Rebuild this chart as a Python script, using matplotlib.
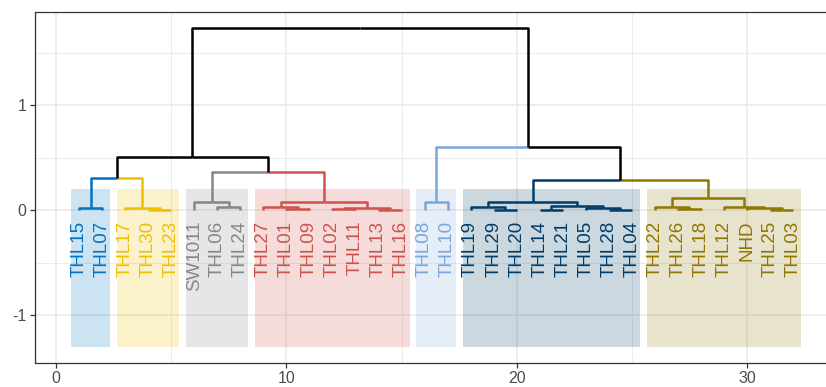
#!/usr/bin/python3
# coding: utf-8

import matplotlib
matplotlib.use("Agg")
import matplotlib.pyplot as plt
from matplotlib.patches import Rectangle
from matplotlib.ticker import MultipleLocator

# leaf order as drawn, left to right
leafLabels = ["THL15", "THL07", "THL17", "THL30", "THL23", "SW1011", "THL06", "THL24",
              "THL27", "THL01", "THL09", "THL02", "THL11", "THL13", "THL16",
              "THL08", "THL10", "THL19", "THL29", "THL20", "THL14", "THL21", "THL05",
              "THL28", "THL04", "THL22", "THL26", "THL18", "THL12", "NHD", "THL25", "THL03"]
# cluster of every leaf (index into clusterColors)
leafCluster = [0, 0, 1, 1, 1, 2, 2, 2, 3, 3, 3, 3, 3, 3, 3, 4, 4,
               5, 5, 5, 5, 5, 5, 5, 5, 6, 6, 6, 6, 6, 6, 6]
clusterColors = ["#0073C2", "#EFC000", "#868686", "#CD534C", "#7AA6DC", "#003C67", "#8F7700"]

# merges, linkage style: ids < 32 are leaves, id 32+k is merge k
mergeLeft = [0, 3, 2, 6, 5, 9, 8, 11, 13, 39, 38, 15, 18, 17, 20, 23, 22, 46, 45,
             26, 25, 30, 29, 28, 52, 32, 36, 57, 50, 43, 59]
mergeRight = [1, 4, 33, 7, 35, 10, 37, 12, 14, 40, 41, 16, 19, 44, 21, 24, 47, 48, 49,
              27, 51, 31, 53, 54, 55, 34, 42, 58, 56, 60, 61]
mergeHeight = [0.015, 0.005, 0.022, 0.03, 0.073, 0.008, 0.025, 0.006, 0.005, 0.015, 0.079,
               0.08, 0.005, 0.03, 0.005, 0.003, 0.02, 0.035, 0.079,
               0.01, 0.03, 0.003, 0.015, 0.025, 0.117, 0.305, 0.365, 0.505, 0.29, 0.60, 1.733]

xTicks = [0, 10, 20, 30]
yTicks = [-1, 0, 1]


def layout():
    # x of a node is the mean of its two children, leaves sit at 1..n
    n = len(leafLabels)
    xs = {i: i + 1 for i in range(n)}
    hs = {i: 0.0 for i in range(n)}
    cols = {i: clusterColors[leafCluster[i]] for i in range(n)}
    for k in range(len(mergeLeft)):
        a, b = mergeLeft[k], mergeRight[k]
        node = n + k
        xs[node] = (xs[a] + xs[b]) / 2.0
        hs[node] = mergeHeight[k]
        cols[node] = cols[a] if cols[a] == cols[b] else "black"
    return xs, hs, cols


def main():
    plt.rcParams['font.family'] = ['Liberation Sans', 'DejaVu Sans']
    plt.rcParams['axes.unicode_minus'] = False
    fig = plt.figure(figsize=(8.26, 3.87), dpi=100)
    ax = fig.add_axes([0.0424, 0.0628, 0.9576, 0.9062])

    xs, hs, cols = layout()
    n = len(leafLabels)

    # cluster boxes
    for c in range(len(clusterColors)):
        members = [i + 1 for i in range(n) if leafCluster[i] == c]
        x0 = min(members) - 0.35
        x1 = max(members) + 0.35
        ax.add_patch(Rectangle((x0, -1.3), x1 - x0, 1.5, facecolor=clusterColors[c],
                               alpha=0.2, edgecolor="none", zorder=1))

    # branches: each child gets an elbow up to the parent, coloured like the child
    for k in range(len(mergeLeft)):
        node = n + k
        for child in (mergeLeft[k], mergeRight[k]):
            ax.plot([xs[child], xs[child], xs[node]], [hs[child], hs[node], hs[node]],
                    color=cols[child], lw=1.8, solid_capstyle="butt", zorder=3)

    # leaf labels
    for i, lab in enumerate(leafLabels):
        ax.text(i + 1, -0.1, lab, rotation=90, ha="center", va="top",
                color=clusterColors[leafCluster[i]], fontsize=13.5, zorder=4)

    ax.set_xlim(-0.913, 33.43)
    ax.set_ylim(-1.454, 1.886)
    ax.set_xticks(xTicks)
    ax.set_yticks(yTicks)
    ax.xaxis.set_minor_locator(MultipleLocator(5))
    ax.yaxis.set_minor_locator(MultipleLocator(0.5))
    ax.grid(which="major", color="#EBEBEB", lw=1.2, zorder=0)
    ax.grid(which="minor", color="#EBEBEB", lw=0.7, zorder=0)
    ax.set_axisbelow(True)
    ax.tick_params(which="major", length=3.5, width=0.9, color="#333333",
                   labelcolor="#4D4D4D", labelsize=11.5, pad=2.5)
    ax.tick_params(which="minor", length=0)
    for s in ax.spines.values():
        s.set_color("#333333")
        s.set_linewidth(0.9)
    ax.spines["right"].set_visible(False)

    fig.savefig("out.png", dpi=100)


main()
